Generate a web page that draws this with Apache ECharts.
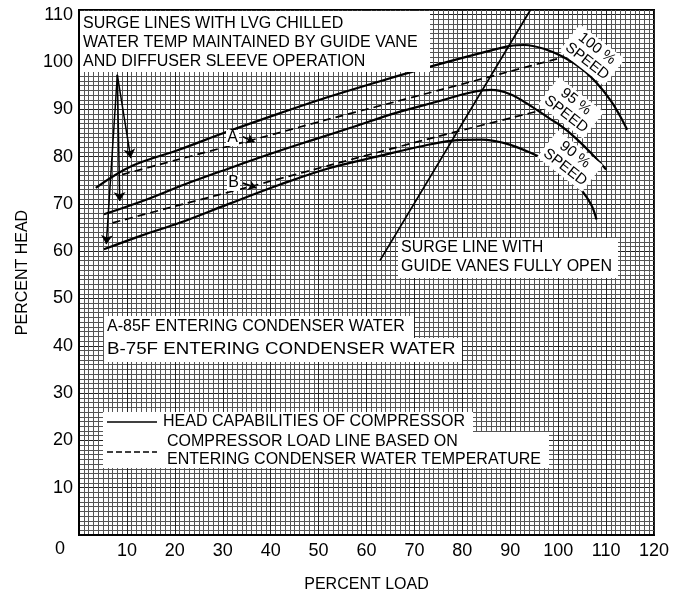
<!DOCTYPE html>
<html>
<head>
<meta charset="utf-8">
<script src="https://cdn.jsdelivr.net/npm/echarts@6/dist/echarts.min.js"></script>
<style>
html,body{margin:0;padding:0;background:#fff;}
#c{width:676px;height:598px;}
</style>
</head>
<body>
<div id="c"></div>
<script>
// ---- data (percent load, percent head) ----
const speed100 = [[3.5,73.4],[11,78],[21,81.5],[31,85.3],[42,89.2],[52,92.6],[63,96],[75,99.5],[85,102.2],[90,103.4],[93,103.6],[97,102.8],[101,101.1],[105,98.5],[108,95.6],[111,91.8],[112.8,88.8],[114.4,85.7]];
const speed95 = [[5.2,67.8],[14,70.9],[22,74.1],[31,77.4],[40,80.6],[49,83.6],[57,86.2],[66,89.2],[75,91.7],[82,93.6],[86,94.1],[90,93.2],[94,90.9],[98,88.2],[101,86.2],[104,83.6],[107,80.6],[110,77.3]];
const speed90 = [[5.2,60.4],[13,63.3],[21,66],[31,69.9],[42,74.1],[52,77.5],[63,80.2],[72,82.3],[79,83.5],[84,83.6],[89,82.8],[94,80.9],[99.7,78],[102.5,75.6],[105.2,72.5],[107,69.6],[108,66.7]];
const loadA = [[9,76.2],[20,79.2],[39,84.3],[52.4,88],[63,90.8],[75,94],[88,97.5],[101,101]];
const loadB = [[7,66],[20,69.5],[37,74],[52.4,78.2],[75,84.3],[96.5,89.8]];
const surgeOpen = [[62.8,58],[94.2,111]];
const surgeApex = [8,97.3];
const surgeArrowEnds = [[10.8,79.7],[8.5,70.6],[5.7,61.5]];
const pointerA = [[34.2,84.2],[36.6,83.1]];
const pointerB = [[34.2,74.4],[37,73.4]];
const xMin = 0, xMax = 120, yMin = 0, yMax = 111, tickStep = 10;

const FONT = '"Liberation Sans", Arial, sans-serif';
const chart = echarts.init(document.getElementById('c'), null, {renderer:'canvas'});

function txt(x, y, s, size, extra, el) {
  return Object.assign({
    type: 'text', x: x, y: y, z: 120,
    style: Object.assign({
      text: s, font: (size || 16) + 'px ' + FONT, fill: '#000',
      textAlign: 'left', textVerticalAlign: 'middle', align: 'left', verticalAlign: 'middle'
    }, extra || {})
  }, el || {});
}
function box(x, y, w, h) {
  return {type:'rect', z: 110, shape:{x:x, y:y, width:w, height:h}, style:{fill:'#fff'}};
}
function speedLabel(x, y, pct) {
  return {
    type: 'text', x: x, y: y, rotation: -0.66, z: 120,
    style: {
      text: pct + ' %\nSPEED', font: '15px ' + FONT, fill: '#000',
      textAlign: 'center', textVerticalAlign: 'middle', align: 'center', verticalAlign: 'middle',
      backgroundColor: '#fff', padding: [1, 3], lineHeight: 16
    }
  };
}

const solid = {color:'#000', width: 2.2};
const dashed = {color:'#000', width: 1.7, type: [8, 5]};

const option = {
  backgroundColor: '#fff',
  animation: false,
  grid: {left: 79, right: 22, top: 10, bottom: 61, show: true, backgroundColor: '#fff', borderColor: '#000', borderWidth: 2},
  xAxis: {
    type: 'value', min: xMin, max: xMax, interval: tickStep,
    name: 'PERCENT LOAD', nameLocation: 'middle', nameGap: 42,
    nameTextStyle: {fontFamily: FONT, fontSize: 16, color: '#000'},
    axisLine: {show: true, lineStyle: {color: '#000', width: 2}},
    axisTick: {show: false},
    axisLabel: {showMinLabel: false, fontFamily: FONT, fontSize: 18, color: '#000', margin: 7},
    splitLine: {show: true, lineStyle: {color: '#222', width: 1}},
    minorTick: {show: false, splitNumber: 10},
    minorSplitLine: {show: true, lineStyle: {color: '#555', width: 1}}
  },
  yAxis: {
    type: 'value', min: yMin, max: yMax, interval: tickStep,
    name: 'PERCENT HEAD', nameLocation: 'middle', nameGap: 48, nameRotate: 90,
    nameTextStyle: {fontFamily: FONT, fontSize: 16, color: '#000'},
    axisLine: {show: true, lineStyle: {color: '#000', width: 2}},
    axisTick: {show: false},
    axisLabel: {showMinLabel: false, showMaxLabel: false, fontFamily: FONT, fontSize: 18, color: '#000', margin: 6},
    splitLine: {show: true, lineStyle: {color: '#222', width: 1}},
    minorTick: {show: false, splitNumber: 10},
    minorSplitLine: {show: true, lineStyle: {color: '#555', width: 1}}
  },
  series: [
    {name:'100% speed', type:'line', data: speed100, smooth: 0.35, showSymbol:false, lineStyle: solid, z: 5},
    {name:'95% speed', type:'line', data: speed95, smooth: 0.35, showSymbol:false, lineStyle: solid, z: 5},
    {name:'90% speed', type:'line', data: speed90, smooth: 0.35, showSymbol:false, lineStyle: solid, z: 5},
    {name:'A-85F load line', type:'line', data: loadA, smooth: 0.2, showSymbol:false, lineStyle: dashed, z: 5},
    {name:'B-75F load line', type:'line', data: loadB, smooth: 0.2, showSymbol:false, lineStyle: dashed, z: 5},
    {name:'Surge line guide vanes fully open', type:'line', data: surgeOpen, showSymbol:false, lineStyle: {color:'#000', width:1.7}, z: 5},
    {name:'Surge lines LVG', type:'lines', coordinateSystem:'cartesian2d', z: 6,
      symbol: ['none','arrow'], symbolSize: 9,
      lineStyle: {color:'#000', width: 1.5, opacity: 1},
      data: surgeArrowEnds.map(e => ({coords: [surgeApex, e]}))},
    {name:'Pointers', type:'lines', coordinateSystem:'cartesian2d', z: 6,
      symbol: ['none','arrow'], symbolSize: 8,
      lineStyle: {color:'#000', width: 1.7, opacity: 1},
      data: [{coords: pointerA}, {coords: pointerB}]}
  ],
  graphic: [
    // title box
    box(80, 11, 350, 61),
    txt(83, 24, 'SURGE LINES WITH LVG CHILLED'),
    txt(83, 43, 'WATER TEMP MAINTAINED BY GUIDE VANE'),
    txt(83, 62, 'AND DIFFUSER SLEEVE OPERATION'),
    // A / B labels on curves
    box(226, 130, 13, 16), txt(232.5, 138, 'A', 16, {textAlign:'center', align:'center'}),
    box(227, 175, 13, 16), txt(233.5, 183, 'B', 16, {textAlign:'center', align:'center'}),
    // A-85F / B-75F box
    box(104, 316, 310, 22),
    txt(107, 327, 'A-85F ENTERING CONDENSER WATER'),
    box(104, 338, 358, 24),
    txt(107, 350, 'B-75F ENTERING CONDENSER WATER', 16, null, {scaleX: 1.17}),
    // surge line text
    box(398, 238, 220, 40),
    txt(401, 248, 'SURGE LINE WITH'),
    txt(401, 267, 'GUIDE VANES FULLY OPEN'),
    // legend
    box(103, 412, 370, 21),
    box(103, 432, 446, 36),
    {type:'line', z: 120, shape:{x1:107, y1:422, x2:157, y2:422}, style:{stroke:'#000', lineWidth:1.6}},
    {type:'line', z: 120, shape:{x1:107, y1:452, x2:157, y2:452}, style:{stroke:'#000', lineWidth:1.4, lineDash:[6,3]}},
    txt(163, 422, 'HEAD CAPABILITIES OF COMPRESSOR'),
    txt(167, 442, 'COMPRESSOR LOAD LINE BASED ON'),
    txt(167, 460, 'ENTERING CONDENSER WATER TEMPERATURE'),
    // speed labels
    speedLabel(592, 55, '100'),
    speedLabel(571, 108, '95'),
    speedLabel(570, 161, '90'),
    // y zero label
    txt(60, 549, '0', 18, {textAlign:'center', align:'center'})
  ]
};
chart.setOption(option);
</script>
</body>
</html>
